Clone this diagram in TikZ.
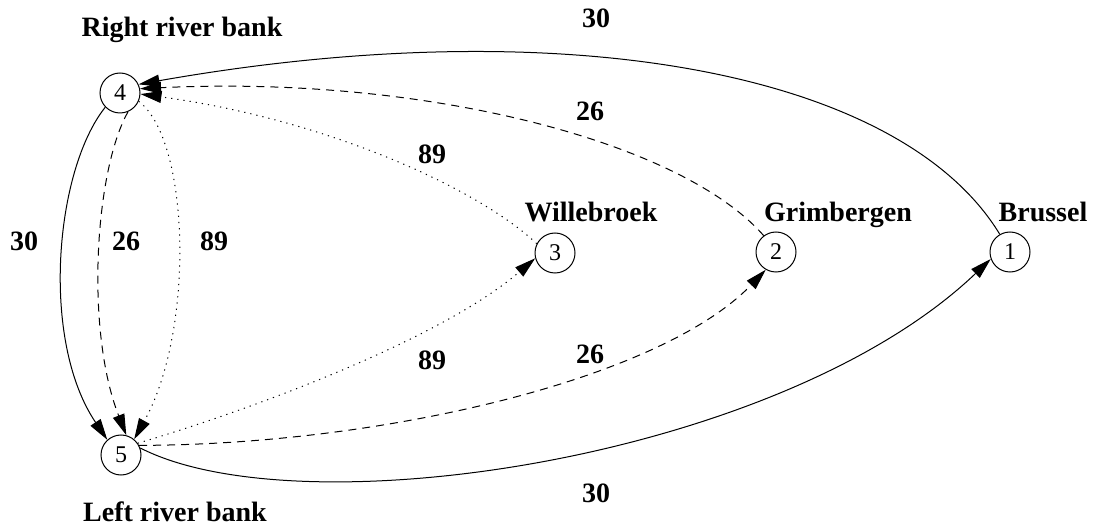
\documentclass[tikz,border=0pt]{standalone}
\usepackage{fontspec}
\setmainfont{Liberation Serif}
\usetikzlibrary{arrows.meta}
\begin{document}
\begin{tikzpicture}[x=1pt,y=-1pt,
  place/.style={circle,draw,line width=1pt,minimum size=40pt,inner sep=0pt,
    font=\fontsize{24}{26}\selectfont},
  caption/.style={anchor=base,inner sep=0pt,
    font=\fontsize{28}{32}\selectfont\bfseries},
  edge/.style={line width=1pt,-{Triangle[length=21pt,width=12pt]}},
  dashline/.style={edge,dash pattern=on 8pt off 6pt},
  dotline/.style={edge,dash pattern=on 1.2pt off 5pt}
]
\useasboundingbox (0,0) rectangle (1093,529);

% places
\node[place] (n4) at (120,93)  {4};
\node[place] (n5) at (121,455) {5};
\node[place] (n3) at (555,253) {3};
\node[place] (n2) at (776,252) {2};
\node[place] (n1) at (1010,252) {1};

% place names
\node[caption] (lright) at (182,37)  {Right river bank};
\node[caption] (lleft)  at (175,521) {Left river bank};
\node[caption] (lwil)   at (591,222) {Willebroek};
\node[caption] (lgri)   at (838,222) {Grimbergen};
\node[caption] (lbru)   at (1043,222) {Brussel};

% weights
\node[caption] (w14)  at (596,28)  {30};
\node[caption] (w24)  at (590,121) {26};
\node[caption] (w34)  at (432,164) {89};
\node[caption] (w45a) at (24,251)  {30};
\node[caption] (w45b) at (126,251) {26};
\node[caption] (w45c) at (214,251) {89};
\node[caption] (w53)  at (432,370) {89};
\node[caption] (w52)  at (590,363) {26};
\node[caption] (w51)  at (596,502) {30};

% connections towards the right bank
\draw[edge]     (n1.120) .. controls (900,70) and (560,10) .. (n4.25);
\draw[dashline] (n2.127) .. controls (680,140) and (420,75) .. (n4.12);
\draw[dotline]  (n3.153) .. controls (480,190) and (330,120) .. (n4.-3);

% crossing the river
\draw[edge]     (n4.224) .. controls (55,170) and (40,340) .. (n5.132);
\draw[dashline] (n4.-67) .. controls (95,170) and (85,330) .. (n5.75);
\draw[dotline]  (n4.-24) .. controls (190,140) and (195,330) .. (n5.50);

% connections from the left bank
\draw[dotline]  (n5.35) .. controls (250,410) and (440,340) .. (n3.195);
\draw[dashline] (n5.28) .. controls (380,445) and (660,380) .. (n2.240);
\draw[edge]     (n5.20) .. controls (300,530) and (780,460) .. (n1.200);
\end{tikzpicture}
\end{document}
